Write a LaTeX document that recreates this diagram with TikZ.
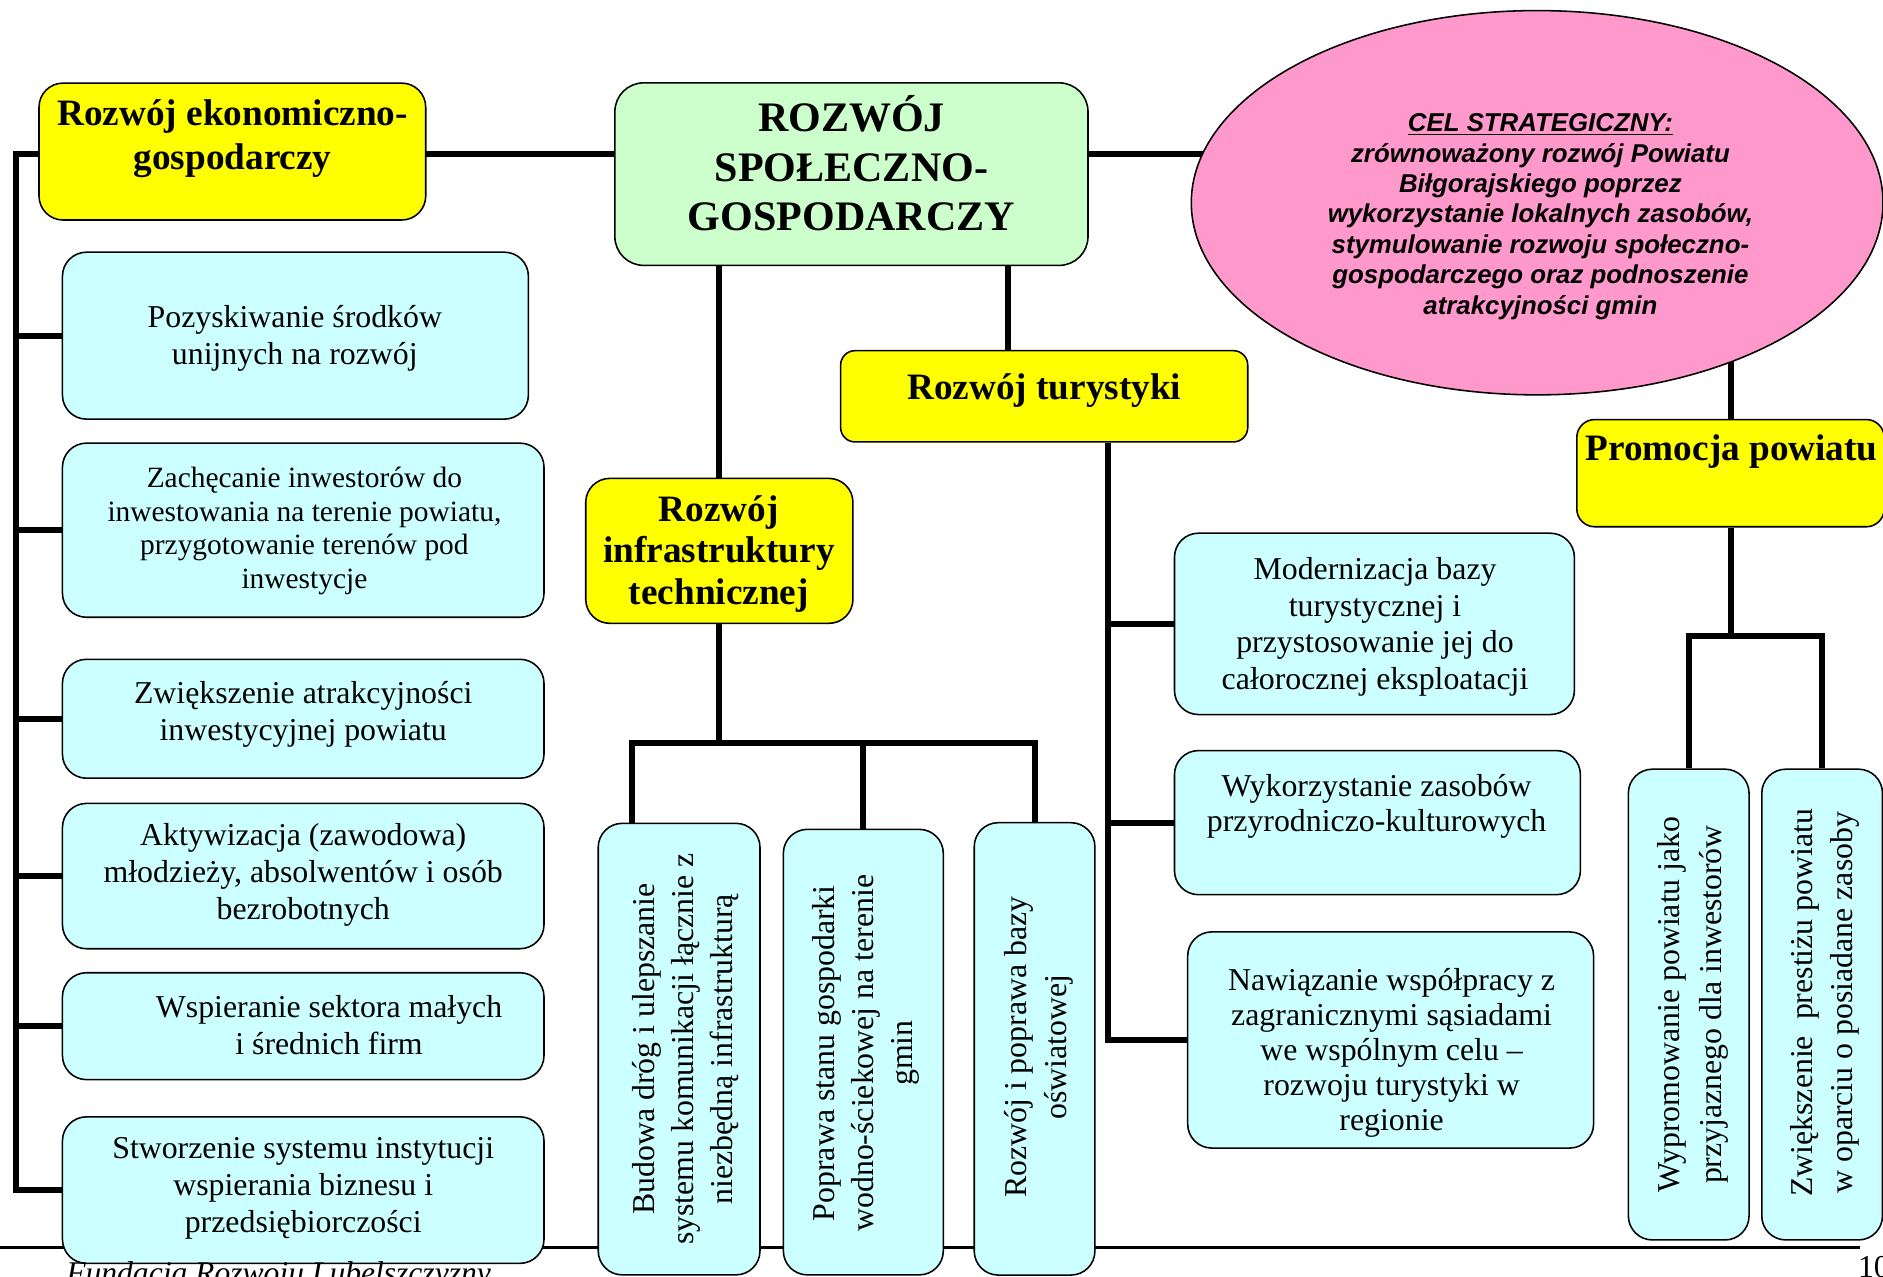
\documentclass[tikz,border=0pt]{standalone}
\usepackage{fontspec}
\setmainfont{Liberation Serif}
\newfontfamily\arialf{Liberation Sans}
\usetikzlibrary{shapes.geometric,backgrounds}
\definecolor{yel}{HTML}{FFFF00}
\definecolor{grn}{HTML}{CCFFCC}
\definecolor{cyn}{HTML}{CCFFFF}
\definecolor{pnk}{HTML}{FF99CC}
\tikzset{
  bx/.style={draw=black, line width=1.3pt, rounded corners=20pt, inner sep=0pt},
  ybx/.style={bx, fill=yel},
  cbx/.style={bx, fill=cyn},
  gbx/.style={bx, fill=grn},
  conn/.style={line width=5pt, line join=miter},
  hd/.style={font=\bfseries\fontsize{31}{37}\selectfont, align=center, inner sep=0pt},
  tx/.style={font=\fontsize{26.5}{30.5}\selectfont, align=center, inner sep=0pt},
  txs/.style={font=\fontsize{24.5}{28}\selectfont, align=center, inner sep=0pt},
  rt/.style={font=\fontsize{26.5}{32.6}\selectfont, align=center, inner sep=0pt, rotate=90},
}
\begin{document}
\begin{tikzpicture}[x=1pt,y=-1pt]
\useasboundingbox (0,0) rectangle (1568,1063);

% ---- top level
\node[ybx, minimum width=322pt, minimum height=114pt] (ekon) at (193.5,126.2) {};
\node[hd] (ekonT) at (193.7,115.5) {Rozwój ekonomiczno-\\gospodarczy};
\node[gbx, minimum width=394pt, minimum height=152pt, rounded corners=24pt] (spol) at (709,145) {};
\node[hd, font=\bfseries\fontsize{35}{41}\selectfont] (spolT) at (709,136) {ROZWÓJ\\SPOŁECZNO-\\GOSPODARCZY};
\node[ellipse, draw=black, line width=1.3pt, fill=pnk, minimum width=576pt, minimum height=320pt, inner sep=0pt] (cel) at (1280,168.8) {};
\node[font=\arialf\bfseries\itshape\fontsize{21.5}{25.3}\selectfont, align=center, inner sep=0pt] (celT) at (1282.7,180.4)
  {\underline{CEL STRATEGICZNY:}\\zrównoważony rozwój Powiatu\\Biłgorajskiego poprzez\\wykorzystanie lokalnych zasobów,\\stymulowanie rozwoju społeczno-\\gospodarczego oraz podnoszenie\\atrakcyjności gmin};

% ---- second level
\node[ybx, minimum width=339pt, minimum height=76pt, rounded corners=12pt] (tur) at (869.5,330) {};
\node[hd] (turT) at (869.5,325.4) {Rozwój turystyki};
\node[ybx, minimum width=222.5pt, minimum height=120.7pt] (infra) at (599,458.7) {};
\node[hd, font=\bfseries\fontsize{31}{34.7}\selectfont] (infraT) at (598.6,461.3) {Rozwój\\infrastruktury\\technicznej};
\node[ybx, minimum width=256pt, minimum height=89.3pt, rounded corners=15pt] (prom) at (1441,394) {};
\node[hd] (promT) at (1442,375.9) {Promocja powiatu};

% ---- left column
\node[cbx, minimum width=388pt, minimum height=139pt] (b1) at (246,279.5) {};
\node[tx] (b1T) at (245.5,282) {Pozyskiwanie środków\\unijnych na rozwój};
\node[cbx, minimum width=401pt, minimum height=145pt] (b2) at (252.5,441.5) {};
\node[txs] (b2T) at (253.5,442) {Zachęcanie inwestorów do\\inwestowania na terenie powiatu,\\przygotowanie terenów pod\\inwestycje};
\node[cbx, minimum width=401pt, minimum height=99pt] (b3) at (252.5,598.5) {};
\node[tx] (b3T) at (252.5,595) {Zwiększenie atrakcyjności\\inwestycyjnej powiatu};
\node[cbx, minimum width=401pt, minimum height=121pt] (b4) at (252.5,729.5) {};
\node[tx] (b4T) at (252.5,728.5) {Aktywizacja (zawodowa)\\młodzieży, absolwentów i osób\\bezrobotnych};
\node[cbx, minimum width=401pt, minimum height=89pt] (b5) at (252.5,854.5) {};
\node[tx] (b5T) at (274,853.5) {Wspieranie sektora małych\\i średnich firm};
\node[cbx, minimum width=401pt, minimum height=122pt] (b6) at (252.5,991) {};
\node[tx] (b6T) at (252.5,989.5) {Stworzenie systemu instytucji\\wspierania biznesu i\\przedsiębiorczości};

% ---- infrastructure column
\node[cbx, minimum width=134.7pt, minimum height=376pt] (B1) at (565.5,873.6) {};
\node[rt] (B1T) at (571,873.6) {Budowa dróg i ulepszanie\\systemu komunikacji łącznie z\\niezbędną infrastrukturą};
\node[cbx, minimum width=133.2pt, minimum height=371pt] (B2) at (718.9,876.1) {};
\node[rt] (B2T) at (721,877) {Poprawa stanu gospodarki\\wodno-ściekowej na terenie\\gmin};
\node[cbx, minimum width=100.5pt, minimum height=376.7pt] (B3) at (861.5,873.4) {};
\node[rt, font=\fontsize{26.5}{34}\selectfont] (B3T) at (865,872) {Rozwój i poprawa bazy\\oświatowej};

% ---- tourism column
\node[cbx, minimum width=333pt, minimum height=151pt] (T1) at (1144.5,519.5) {};
\node[tx] (T1T) at (1145,522) {Modernizacja bazy\\turystycznej i\\przystosowanie jej do\\całorocznej eksploatacji};
\node[cbx, minimum width=338pt, minimum height=120pt] (T2) at (1147,685) {};
\node[tx, font=\fontsize{26.5}{29.2}\selectfont] (T2T) at (1146.3,671.6) {Wykorzystanie zasobów\\przyrodniczo-kulturowych};
\node[cbx, minimum width=338pt, minimum height=180pt] (T3) at (1158,866) {};
\node[tx, font=\fontsize{26.5}{29.2}\selectfont] (T3T) at (1158.8,877) {Nawiązanie współpracy z\\zagranicznymi sąsiadami\\we wspólnym celu –\\rozwoju turystyki w\\regionie};

% ---- promotion column
\node[cbx, minimum width=100.5pt, minimum height=392pt] (P1) at (1406.2,836.5) {};
\node[rt, font=\fontsize{26.5}{34.7}\selectfont] (P1T) at (1409.5,836.5) {Wypromowanie powiatu jako\\przyjaznego dla inwestorów};
\node[cbx, minimum width=100.5pt, minimum height=392pt] (P2) at (1517.3,836.5) {};
\node[rt, font=\fontsize{26.5}{33.4}\selectfont] (P2T) at (1519.7,835) {Zwiększenie\ \ prestiżu powiatu\\w oparciu o posiadane zasoby};

% ---- footer
\node[font=\itshape\fontsize{26.3}{30}\selectfont, anchor=base west, inner sep=0pt] (foot) at (55,1069) {Fundacja Rozwoju Lubelszczyzny};
\node[font=\fontsize{26.5}{30}\selectfont, anchor=base west, inner sep=0pt] (pg) at (1547,1064) {10};

% ---- connectors (behind boxes)
\begin{pgfonlayer}{background}
\fill[white] (0,0) rectangle (1568,1063);
\coordinate (hl) at (13.5,128.5);
\coordinate (tx) at (839.5,0);
\coordinate (bar) at (0,619);
\coordinate (v1) at (526,0);
\coordinate (tv) at (923,0);
\coordinate (ph) at (0,530);
\coordinate (fl) at (0,1038.8);
\coordinate (fr) at (1549,1038.8);
\draw[line width=2.2pt] (fl) -- (fr);
\draw[conn] (hl -| cel.center) -- (hl) -- (hl |- b6.west) -- (b6.west);
\foreach \b in {b1,b2,b3,b4,b5} \draw[conn] (\b.west) -- (\b.west -| hl);
\draw[conn] (infra.north) -- (infra.north |- spol.south);
\draw[conn] (tx |- spol.south) -- (tx |- tur.north);
\draw[conn] (infra.south) -- (infra.south |- bar);
\draw[conn] (v1 |- B1.north) -- (v1 |- bar) -- (bar -| B3.north) -- (B3.north);
\draw[conn] (B2.north) -- (B2.north |- bar);
\draw[conn] (tv |- tur.south) -- (tv |- T3.west) -- (T3.west);
\draw[conn] (T1.west) -- (T1.west -| tv);
\draw[conn] (T2.west) -- (T2.west -| tv);
\draw[conn] (prom.north) -- (prom.north |- cel.center);
\draw[conn] (prom.south) -- (prom.south |- ph);
\draw[conn] (P1.north) -- (P1.north |- ph) -- (ph -| P2.north) -- (P2.north);
\end{pgfonlayer}
\end{tikzpicture}
\end{document}
